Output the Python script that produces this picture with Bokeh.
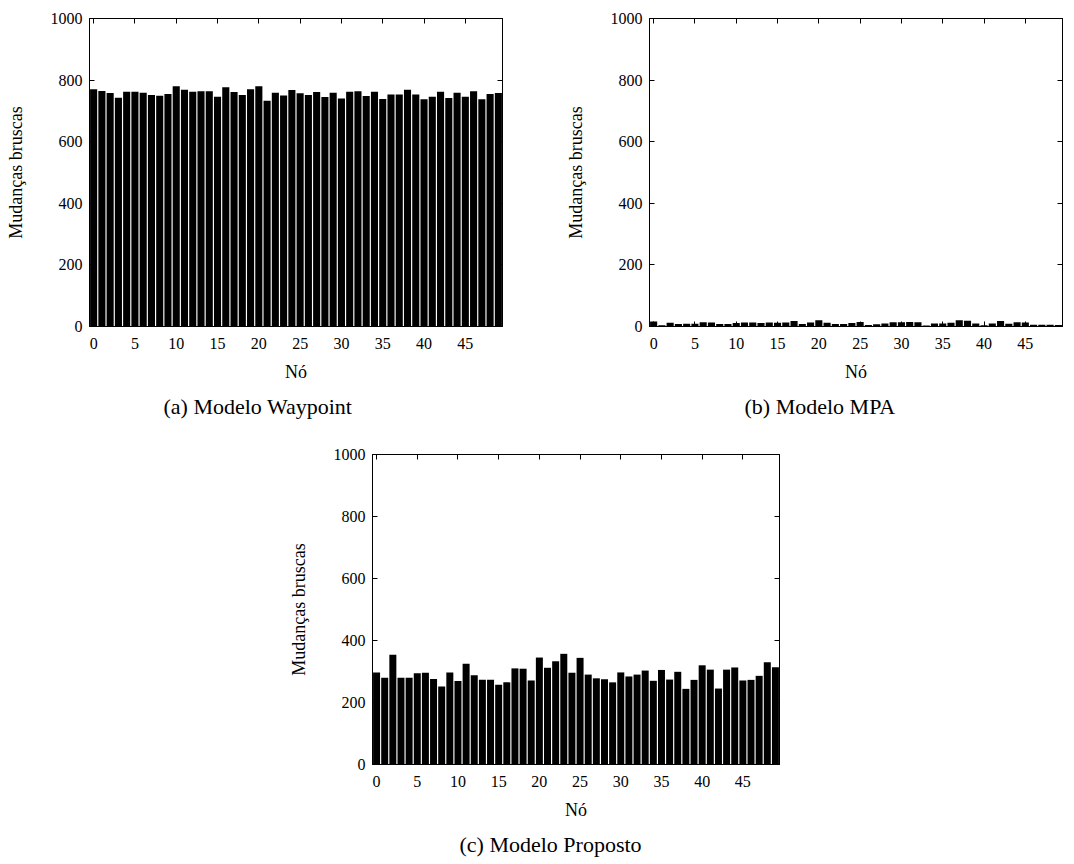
from bokeh.plotting import figure
from bokeh.models import LinearAxis, FixedTicker, Range1d, Title, Spacer
from bokeh.layouts import column, row
from bokeh.embed import file_html
from bokeh.resources import INLINE

nodes = list(range(50))

waypoint = [770, 765, 758, 743, 762, 762, 759, 752, 749, 755,
            780, 769, 762, 764, 764, 746, 777, 761, 752, 770,
            780, 733, 759, 750, 768, 757, 752, 761, 745, 759,
            740, 762, 764, 748, 762, 739, 753, 753, 769, 753,
            738, 746, 762, 742, 759, 746, 764, 738, 755, 758]

mpa = [16, 4, 12, 8, 9, 9, 14, 13, 8, 8,
       11, 13, 13, 11, 13, 12, 13, 18, 8, 13,
       20, 12, 8, 8, 11, 15, 5, 7, 10, 14,
       14, 15, 14, 3, 10, 10, 12, 20, 19, 10,
       4, 10, 18, 9, 14, 13, 6, 6, 6, 5]

proposto = [297, 280, 354, 280, 280, 294, 296, 276, 252, 297,
            269, 325, 288, 273, 273, 257, 265, 310, 309, 271,
            345, 312, 333, 357, 296, 344, 290, 278, 275, 265,
            297, 284, 290, 303, 270, 305, 274, 299, 244, 273,
            320, 306, 245, 306, 313, 271, 273, 286, 330, 314]

x_ticks = [0, 5, 10, 15, 20, 25, 30, 35, 40, 45]
y_ticks = [0, 200, 400, 600, 800, 1000]

FONT = "Liberation Serif"


def make_panel(values, caption, width, height, bl, br, bt, bb, cap_offset):
    p = figure(width=width, height=height, output_backend="svg", toolbar_location=None,
               x_range=Range1d(-0.5, 49.5), y_range=Range1d(0, 1000),
               min_border_left=bl, min_border_right=br, min_border_top=bt, min_border_bottom=bb,
               x_axis_label="Nó", y_axis_label="Mudanças bruscas")
    p.vbar(x=nodes, top=values, width=0.86, fill_color="black", line_color=None)
    p.xgrid.visible = False
    p.ygrid.visible = False
    p.outline_line_color = "black"
    p.outline_line_width = 1
    p.background_fill_color = "white"
    p.border_fill_color = "white"

    for ax in p.xaxis:
        ax.ticker = FixedTicker(ticks=x_ticks)
        ax.major_label_standoff = 11
        ax.axis_label_standoff = 10
    for ax in p.yaxis:
        ax.ticker = FixedTicker(ticks=y_ticks)
        ax.major_label_standoff = 7
        ax.axis_label_standoff = 22
    for ax in list(p.xaxis) + list(p.yaxis):
        ax.major_tick_in = 5
        ax.major_tick_out = 0
        ax.minor_tick_in = 0
        ax.minor_tick_out = 0
        ax.axis_line_color = "black"
        ax.major_tick_line_color = "black"
        ax.major_label_text_font = FONT
        ax.major_label_text_font_size = "16px"
        ax.major_label_text_color = "black"
        ax.axis_label_text_font = FONT
        ax.axis_label_text_font_size = "18px"
        ax.axis_label_text_font_style = "normal"
        ax.axis_label_text_color = "black"

    top_ax = LinearAxis(ticker=FixedTicker(ticks=x_ticks), major_tick_in=5, major_tick_out=0,
                        minor_tick_in=0, minor_tick_out=0, major_label_text_font_size="1px",
                        major_label_text_color=None, major_label_standoff=0,
                        axis_line_color="black")
    right_ax = LinearAxis(ticker=FixedTicker(ticks=y_ticks), major_tick_in=5, major_tick_out=0,
                          minor_tick_in=0, minor_tick_out=0, major_label_text_font_size="1px",
                          major_label_text_color=None, major_label_standoff=0,
                          axis_line_color="black")
    p.add_layout(top_ax, "above")
    p.add_layout(right_ax, "right")

    p.add_layout(Title(text=caption, align="left", offset=cap_offset, standoff=15,
                       text_font=FONT, text_font_size="22px", text_font_style="normal",
                       text_color="black"), "below")
    return p


pa = make_panel(waypoint, "(a) Modelo Waypoint", 545, 434, 89, 43, 18, 108, 74)
pb = make_panel(mpa, "(b) Modelo MPA", 521, 434, 104, 4, 18, 108, 95)
pc = make_panel(proposto, "(c) Modelo Proposto", 537, 430, 81, 43, 20, 100, 87)

layout = column(row(pa, pb), row(Spacer(width=285, height=430), pc))

open("out.html", "w").write(file_html(layout, INLINE))
